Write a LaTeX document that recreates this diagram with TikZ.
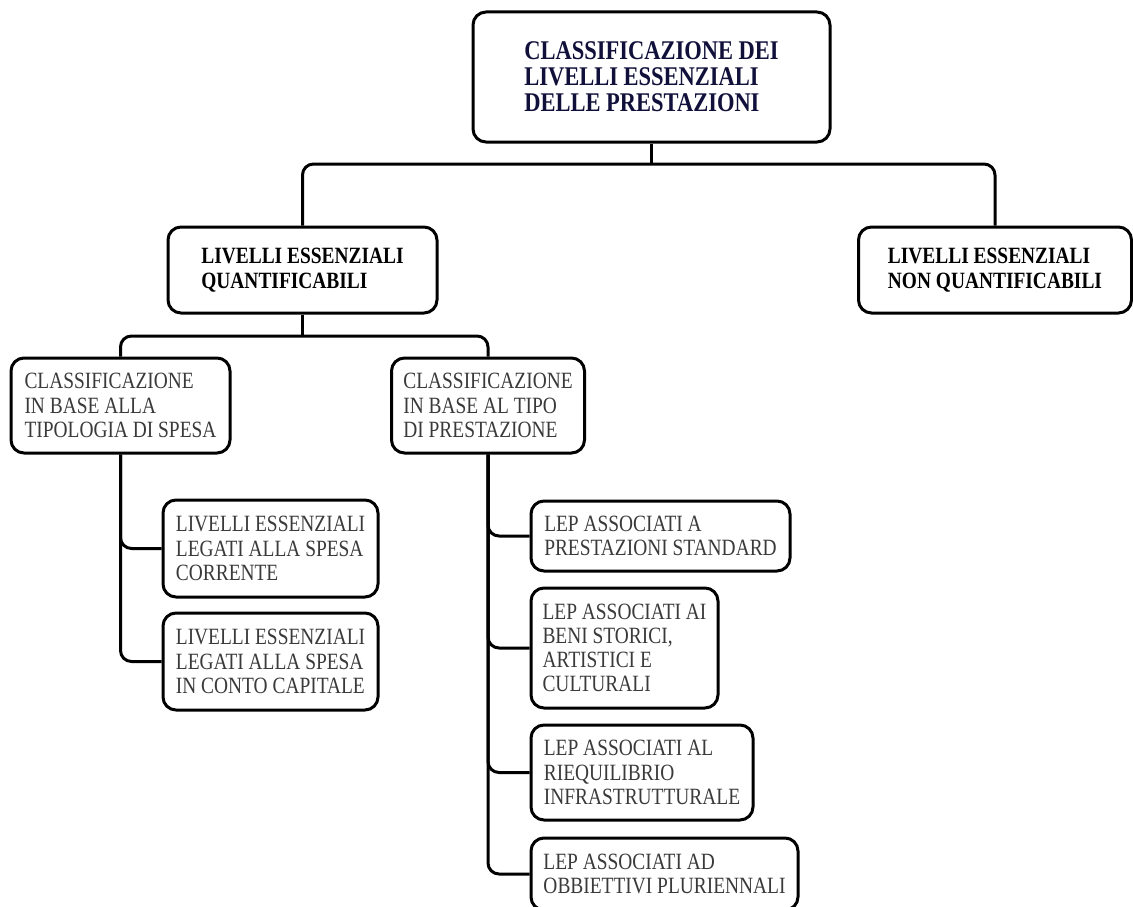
\documentclass[tikz,border=0pt]{standalone}
\usepackage{fontspec}
\setmainfont[FakeStretch=0.833]{Liberation Serif}
\definecolor{titlecol}{HTML}{10103A}
\definecolor{graytext}{HTML}{3A3A3A}
\tikzset{
  box/.style={draw=black, line width=3pt, rounded corners=13pt, fill=white,
    inner sep=0pt, align=left},
  titlebox/.style={box, font=\fontsize{27}{26}\selectfont\bfseries, text=titlecol},
  midbox/.style={box, font=\fontsize{23.3}{25}\selectfont\bfseries, text=black},
  leafbox/.style={box, font=\fontsize{23.3}{24.2}\selectfont, text=graytext},
  conn/.style={draw=black, line width=3pt, rounded corners=11pt}
}
\begin{document}
\begin{tikzpicture}[x=1pt,y=-1pt]
\useasboundingbox (0,0) rectangle (1133,907);
\node[titlebox, minimum width=357pt, minimum height=130pt] (title) at (651.5,77)
  {CLASSIFICAZIONE DEI\\LIVELLI ESSENZIALI\\DELLE PRESTAZIONI};
\node[midbox, minimum width=269pt, minimum height=86pt] (q) at (302.5,270)
  {LIVELLI ESSENZIALI\\QUANTIFICABILI};
\node[midbox, minimum width=273pt, minimum height=86pt] (nq) at (995,270)
  {LIVELLI ESSENZIALI\\NON QUANTIFICABILI};
\node[leafbox, minimum width=219pt, minimum height=95pt] (sp) at (120.5,405.5)
  {CLASSIFICAZIONE\\IN BASE ALLA\\TIPOLOGIA DI SPESA};
\node[leafbox, minimum width=193pt, minimum height=95pt] (tp) at (488,405.5)
  {CLASSIFICAZIONE\\IN BASE AL TIPO\\DI PRESTAZIONE};
\node[leafbox, minimum width=215pt, minimum height=97pt] (cor) at (270.5,548.5)
  {LIVELLI ESSENZIALI\\LEGATI ALLA SPESA\\CORRENTE};
\node[leafbox, minimum width=215pt, minimum height=97pt] (cap) at (270.5,661.5)
  {LIVELLI ESSENZIALI\\LEGATI ALLA SPESA\\IN CONTO CAPITALE};
\node[leafbox, minimum width=259pt, minimum height=70pt] (std) at (660.5,536)
  {LEP ASSOCIATI A\\PRESTAZIONI STANDARD};
\node[leafbox, minimum width=187pt, minimum height=120pt] (ben) at (624.5,648)
  {LEP ASSOCIATI AI\\BENI STORICI,\\ARTISTICI E\\CULTURALI};
\node[leafbox, minimum width=222pt, minimum height=95pt] (inf) at (642,772.5)
  {LEP ASSOCIATI AL\\RIEQUILIBRIO\\INFRASTRUTTURALE};
\node[leafbox, minimum width=267pt, minimum height=72pt] (obb) at (664.5,874)
  {LEP ASSOCIATI AD\\OBBIETTIVI PLURIENNALI};
\coordinate (j1) at (651.5,164);
\coordinate (j2) at (302.5,336);
\draw[conn] (title.south) -- (j1);
\draw[conn] (q.north) |- (j1) -| (nq.north);
\draw[conn] (q.south) -- (j2);
\draw[conn] (sp.north) |- (j2) -| (tp.north);
\draw[conn] (sp.south) |- (cor.west);
\draw[conn] (sp.south) |- (cap.west);
\draw[conn] (tp.south) |- (std.west);
\draw[conn] (tp.south) |- (ben.west);
\draw[conn] (tp.south) |- (inf.west);
\draw[conn] (tp.south) |- (obb.west);
\end{tikzpicture}
\end{document}
